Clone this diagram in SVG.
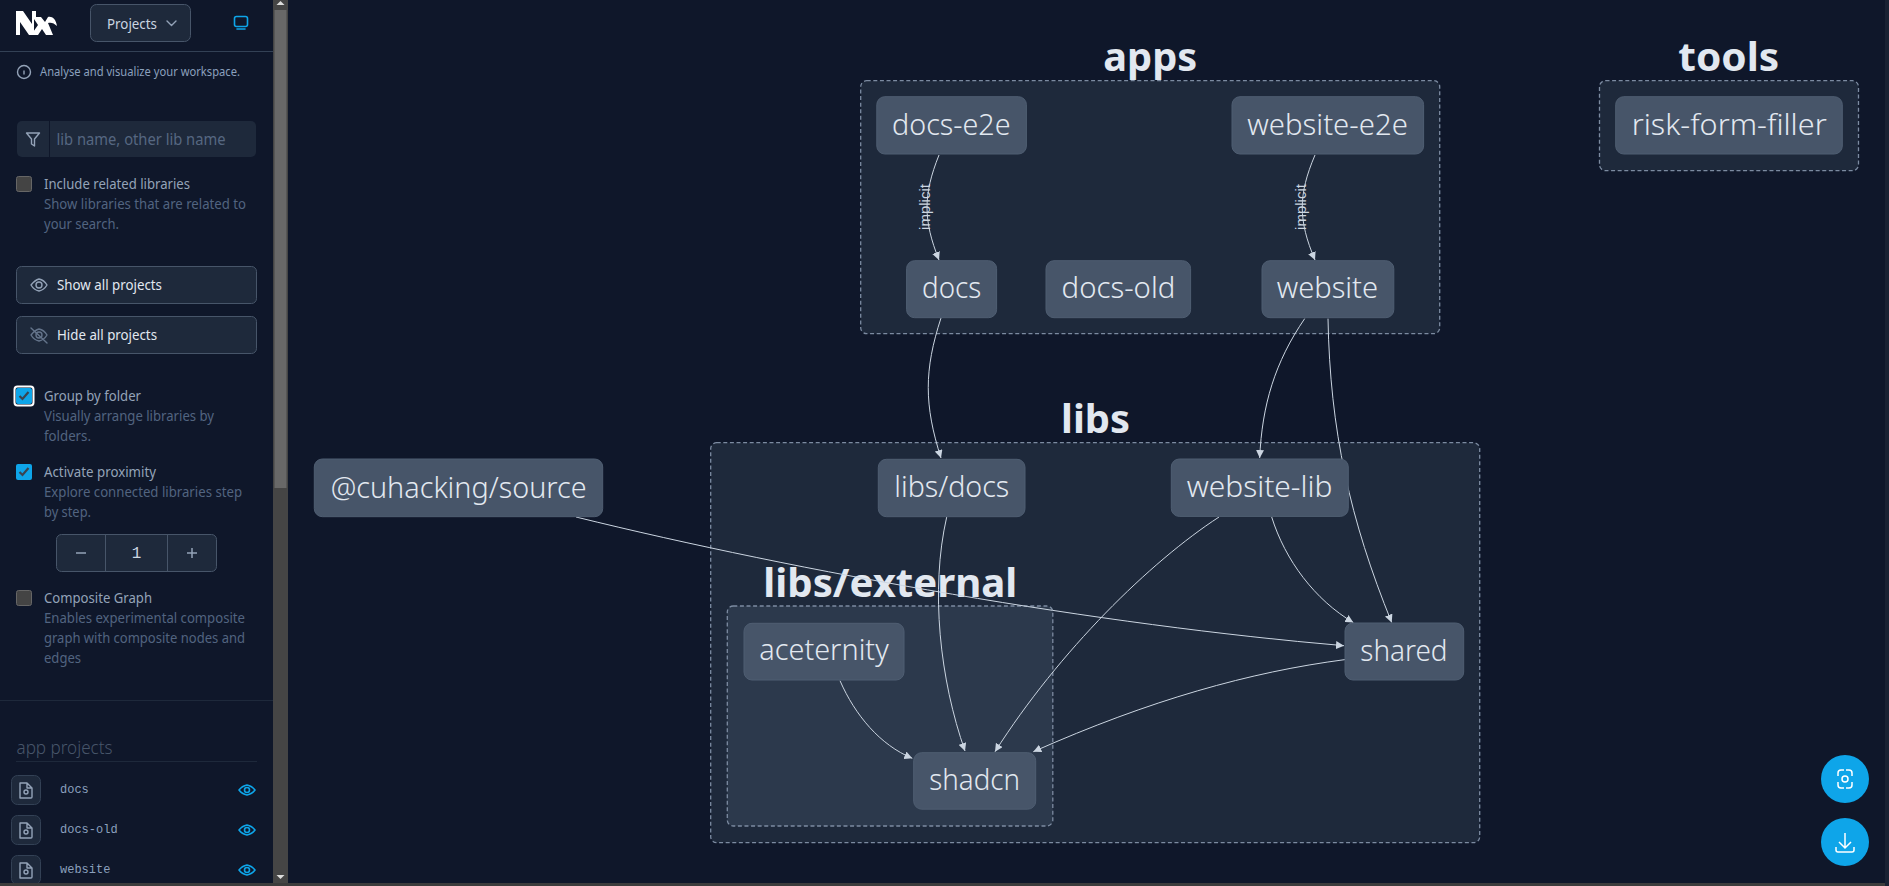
<svg xmlns="http://www.w3.org/2000/svg" width="1889" height="886" viewBox="0 0 1889 886">
<style>
text{font-family:"Noto Sans","Open Sans","DejaVu Sans",sans-serif}
.grp{fill:#1e293b;stroke:#7c8ba1;stroke-width:1.3;stroke-dasharray:4 2.6}
.grp2{fill:#2c394c;stroke:#7c8ba1;stroke-width:1.3;stroke-dasharray:4 2.6}
.glabel{font-size:39px;font-weight:700;fill:#e2e8f0}
.node rect{fill:#475569;stroke:#4f5e72;stroke-width:1}
.node text{font-size:30px;font-weight:300;fill:#e2e8f0}
.edge{fill:none;stroke:#cbd5e1;stroke-width:1;marker-end:url(#arrow)}
.edgelabel{font-family:"Liberation Sans",sans-serif;font-size:15px;fill:#cbd5e1}
.btn{fill:#1e293b;stroke:#475569;stroke-width:1}
.lbl{font-size:14px;fill:#94a3b8}
.sub{font-size:14px;fill:#526480}
.btxt{font-size:14px;fill:#e2e8f0;font-weight:400}
.icon{fill:none;stroke:#94a3b8;stroke-width:1.4;stroke-linecap:round;stroke-linejoin:round}
.dim{fill:none;stroke:#64748b;stroke-width:1.4;stroke-linecap:round;stroke-linejoin:round}
.blue{fill:none;stroke:#0ea5e9;stroke-width:1.6;stroke-linecap:round;stroke-linejoin:round}
.cb{fill:#444;stroke:#666;stroke-width:1}
.cbon{fill:#0ea5e9}
.check{fill:none;stroke:#3b4450;stroke-width:2.2}
.mono{font-family:"Liberation Mono",monospace;font-size:12px;fill:#8ba0bd}
</style>
<defs>
<marker id="arrow" markerUnits="userSpaceOnUse" markerWidth="9" markerHeight="8" refX="8" refY="4" orient="auto"><path d="M0 0L8 4L0 8Z" fill="#cbd5e1"/></marker>
</defs>
<rect width="1889" height="886" fill="#0f172a"/>
<g id="sidebar">
<rect width="273" height="886" fill="#0f172a"/>
<path d="M16 35V11h7l9 13V11h4v6l5 0 4 5 3-5c4-1 8 2 9 9-3-3-6-4-9-3l5 12h-7l-4-6-4 6h-7l7-10-4-6v16h-5l-9-13v13z" fill="#fff"/>
<rect class="btn" x="90.500" y="4.500" width="100" height="37" rx="6"/>
<text x="107" y="29" font-size="14" fill="#cbd5e1" textLength="50" lengthAdjust="spacingAndGlyphs">Projects</text>
<path d="M167 21l4.500 4.500 4.500-4.500" class="icon"/>
<g class="blue"><rect x="234.500" y="16.500" width="13" height="10" rx="2"/><path d="M237 29h8"/></g>
<path d="M0 51.500H273" stroke="#334155"/>
<circle class="icon" cx="24" cy="72" r="6.500"/><path d="M24 71v3" class="icon"/>
<text x="40" y="76" font-size="12" fill="#8ba0bd" textLength="200" lengthAdjust="spacingAndGlyphs">Analyse and visualize your workspace.</text>
<rect x="17" y="121" width="239" height="36" rx="5" fill="#1e293b"/>
<path d="M49.500 121V157" stroke="#0f172a"/>
<path class="icon" d="M26.500 133h13l-5 6v7l-3-2v-5z"/>
<text x="56.500" y="145" font-size="16" fill="#566781" textLength="169" lengthAdjust="spacingAndGlyphs">lib name, other lib name</text>
<rect class="cb" x="16.500" y="176.500" width="15" height="15" rx="2"/>
<text class="lbl" x="44" y="189" textLength="146" lengthAdjust="spacingAndGlyphs">Include related libraries</text>
<text class="sub" x="44" y="209" textLength="202" lengthAdjust="spacingAndGlyphs">Show libraries that are related to</text>
<text class="sub" x="44" y="229" textLength="75" lengthAdjust="spacingAndGlyphs">your search.</text>
<rect class="btn" x="16.500" y="266.500" width="240" height="37" rx="5"/>
<path class="icon" d="M31 285c4-5 8-6 8-6s5 1 8 6c-3 5-8 6-8 6s-5-1-8-6z"/><circle class="icon" cx="39" cy="285" r="3"/>
<text class="btxt" x="57" y="290" textLength="105" lengthAdjust="spacingAndGlyphs">Show all projects</text>
<rect class="btn" x="16.500" y="316.500" width="240" height="37" rx="5"/>
<path class="dim" d="M31 335c4-5 8-6 8-6s5 1 8 6c-3 5-8 6-8 6s-5-1-8-6z"/><circle class="dim" cx="39" cy="335" r="3"/><path class="dim" d="M31 328l16 15"/>
<text class="btxt" x="57" y="340" textLength="100" lengthAdjust="spacingAndGlyphs">Hide all projects</text>
<rect x="14.500" y="386.500" width="19" height="19" rx="3" fill="none" stroke="#fff" stroke-width="2"/>
<rect class="cbon" x="16" y="388" width="16" height="16" rx="2"/>
<path class="check" d="M19.500 396l3 3 6-7"/>
<text class="lbl" x="44" y="401" textLength="97" lengthAdjust="spacingAndGlyphs">Group by folder</text>
<text class="sub" x="44" y="421" textLength="170" lengthAdjust="spacingAndGlyphs">Visually arrange libraries by</text>
<text class="sub" x="44" y="441" textLength="47" lengthAdjust="spacingAndGlyphs">folders.</text>
<rect class="cbon" x="16" y="464" width="16" height="16" rx="2"/>
<path class="check" d="M19.500 472l3 3 6-7"/>
<text class="lbl" x="44" y="477" textLength="112" lengthAdjust="spacingAndGlyphs">Activate proximity</text>
<text class="sub" x="44" y="497" textLength="198" lengthAdjust="spacingAndGlyphs">Explore connected libraries step</text>
<text class="sub" x="44" y="517" textLength="47" lengthAdjust="spacingAndGlyphs">by step.</text>
<rect class="btn" x="56.500" y="534.500" width="160" height="37" rx="5"/>
<path d="M105.500 534.500V571.500M167.500 534.500V571.500" stroke="#475569"/>
<path d="M76 553h10M187 553h10M192 548v10" stroke="#94a3b8" stroke-width="1.500"/>
<text x="136.500" y="558" font-family="Liberation Mono" font-size="16" fill="#cbd5e1" text-anchor="middle" style="font-family:'Liberation Mono',monospace">1</text>
<rect class="cb" x="16.500" y="590.500" width="15" height="15" rx="2"/>
<text class="lbl" x="44" y="603" textLength="108" lengthAdjust="spacingAndGlyphs">Composite Graph</text>
<text class="sub" x="44" y="623" textLength="201" lengthAdjust="spacingAndGlyphs">Enables experimental composite</text>
<text class="sub" x="44" y="643" textLength="201" lengthAdjust="spacingAndGlyphs">graph with composite nodes and</text>
<text class="sub" x="44" y="663" textLength="37" lengthAdjust="spacingAndGlyphs">edges</text>
<path d="M0 700.500H273" stroke="#1e293b"/>
<text x="16.500" y="754" font-size="18" fill="#475569" textLength="96" lengthAdjust="spacingAndGlyphs" font-weight="300">app projects</text>
<path d="M16 761.500H257" stroke="#1e293b"/>
<g id="item-docs"><rect x="11.500" y="775.500" width="29" height="29" rx="6" fill="#1e293b" stroke="#334155"/><path class="icon" d="M20 783h7l5 5v9a1 1 0 0 1-1 1H20zM27 783v5h5"/><circle class="icon" cx="26" cy="792" r="2"/><text class="mono" x="60" y="793">docs</text><path class="blue" d="M239 790c3-4 8-5 8-5s5 1 8 5c-3 4-8 5-8 5s-5-1-8-5z"/><circle class="blue" cx="247" cy="790" r="2.500"/></g>
<g id="item-docs-old"><rect x="11.500" y="815.500" width="29" height="29" rx="6" fill="#1e293b" stroke="#334155"/><path class="icon" d="M20 823h7l5 5v9a1 1 0 0 1-1 1H20zM27 823v5h5"/><circle class="icon" cx="26" cy="832" r="2"/><text class="mono" x="60" y="833">docs-old</text><path class="blue" d="M239 830c3-4 8-5 8-5s5 1 8 5c-3 4-8 5-8 5s-5-1-8-5z"/><circle class="blue" cx="247" cy="830" r="2.500"/></g>
<g id="item-website"><rect x="11.500" y="855.500" width="29" height="29" rx="6" fill="#1e293b" stroke="#334155"/><path class="icon" d="M20 863h7l5 5v9a1 1 0 0 1-1 1H20zM27 863v5h5"/><circle class="icon" cx="26" cy="872" r="2"/><text class="mono" x="60" y="873">website</text><path class="blue" d="M239 870c3-4 8-5 8-5s5 1 8 5c-3 4-8 5-8 5s-5-1-8-5z"/><circle class="blue" cx="247" cy="870" r="2.500"/></g>
<rect x="273" width="15" height="886" fill="#454545"/>
<rect x="274.500" y="10" width="12" height="478" fill="#686868"/>
<path d="M280.500 1l4 4h-8zM280.500 879l4-4h-8z" fill="#ddd"/>
</g>
<g id="group-apps"><rect class="grp" x="860.700" y="80.700" width="579" height="253" rx="6"/><text class="glabel" x="1103.300" y="71" textLength="94" lengthAdjust="spacingAndGlyphs">apps</text></g>
<g id="group-tools"><rect class="grp" x="1599.500" y="80.700" width="259" height="90" rx="6"/><text class="glabel" x="1678.300" y="71" textLength="101" lengthAdjust="spacingAndGlyphs">tools</text></g>
<g id="group-libs"><rect class="grp" x="710.700" y="442.700" width="769" height="400" rx="6"/><text class="glabel" x="1061" y="432.500" textLength="69" lengthAdjust="spacingAndGlyphs">libs</text></g>
<g id="group-libs-external"><rect class="grp2" x="727.300" y="606" width="325.500" height="220" rx="6"/><text class="glabel" x="763.300" y="596.500" textLength="254" lengthAdjust="spacingAndGlyphs">libs/external</text></g>
<g id="connectors">
<path class="edge" d="M939 155C923 195 923 220 939 260"/>
<path class="edge" d="M1315 155C1298 195 1298 220 1315 260"/>
<path class="edge" d="M941 318C924 370 924 405 941 458"/>
<path class="edge" d="M1304.700 318.600C1275 362 1262 405 1259.700 458"/>
<path class="edge" d="M1328 318.600C1330 430 1350 520 1391.700 622.500"/>
<path class="edge" d="M1219 517C1150 562 1060 650 995 751.700"/>
<path class="edge" d="M1271.700 517C1285 560 1315 600 1353.300 622.500"/>
<path class="edge" d="M576 517C800 572 1100 625 1344 645.700"/>
<path class="edge" d="M1345 659.600C1250 672 1150 700 1033.300 751.700"/>
<path class="edge" d="M840 680.700C855 715 880 745 912.300 758.300"/>
<path class="edge" d="M946.700 517C930 590 940 680 965 751"/>
<text class="edgelabel" transform="translate(926.500 207) rotate(-90)" text-anchor="middle" dominant-baseline="middle">implicit</text>
<text class="edgelabel" transform="translate(1302.500 207) rotate(-90)" text-anchor="middle" dominant-baseline="middle">implicit</text>
</g>
<g id="node-docs-e2e" class="node"><rect x="876.800" y="96.700" width="149.600" height="57.300" rx="8"/><text x="892" y="135" textLength="118.600" lengthAdjust="spacingAndGlyphs">docs-e2e</text></g>
<g id="node-website-e2e" class="node"><rect x="1232" y="96.700" width="191.600" height="57.300" rx="8"/><text x="1247.200" y="135" textLength="160.700" lengthAdjust="spacingAndGlyphs">website-e2e</text></g>
<g id="node-docs" class="node"><rect x="906.600" y="260.700" width="90" height="57" rx="8"/><text x="922" y="298" textLength="59.300" lengthAdjust="spacingAndGlyphs">docs</text></g>
<g id="node-docs-old" class="node"><rect x="1046" y="260.700" width="144.600" height="57" rx="8"/><text x="1061.600" y="298" textLength="113.700" lengthAdjust="spacingAndGlyphs">docs-old</text></g>
<g id="node-website" class="node"><rect x="1262" y="260.700" width="131.800" height="57" rx="8"/><text x="1276.700" y="298" textLength="101.400" lengthAdjust="spacingAndGlyphs">website</text></g>
<g id="node-risk-form-filler" class="node"><rect x="1615.700" y="96.700" width="226.600" height="57.300" rx="8"/><text x="1631.700" y="135" textLength="195" lengthAdjust="spacingAndGlyphs">risk-form-filler</text></g>
<g id="node-source" class="node"><rect x="314.300" y="459" width="288.400" height="57.700" rx="8"/><text x="330.700" y="497.500" textLength="256" lengthAdjust="spacingAndGlyphs">@cuhacking/source</text></g>
<g id="node-libs-docs" class="node"><rect x="878.300" y="459.300" width="146.700" height="57.400" rx="8"/><text x="894.300" y="497" textLength="115" lengthAdjust="spacingAndGlyphs">libs/docs</text></g>
<g id="node-website-lib" class="node"><rect x="1171.300" y="459" width="177" height="57.400" rx="8"/><text x="1186.700" y="497" textLength="145.700" lengthAdjust="spacingAndGlyphs">website-lib</text></g>
<g id="node-aceternity" class="node"><rect x="744" y="623.300" width="160" height="56.700" rx="8"/><text x="759.300" y="660.300" textLength="129.400" lengthAdjust="spacingAndGlyphs">aceternity</text></g>
<g id="node-shadcn" class="node"><rect x="913.700" y="752.700" width="122" height="56.500" rx="8"/><text x="929.300" y="790" textLength="90.700" lengthAdjust="spacingAndGlyphs">shadcn</text></g>
<g id="node-shared" class="node"><rect x="1345" y="623" width="118.700" height="57" rx="8"/><text x="1360.300" y="661" textLength="87.300" lengthAdjust="spacingAndGlyphs">shared</text></g>
<g id="controls">
<circle cx="1845" cy="779" r="24" fill="#0ea5e9"/>
<path d="M1838 776v-3a3 3 0 0 1 3-3h3M1846 770h3a3 3 0 0 1 3 3v3M1852 782v3a3 3 0 0 1-3 3h-3M1844 788h-3a3 3 0 0 1-3-3v-3" fill="none" stroke="#fff" stroke-width="1.500"/><circle cx="1845" cy="779" r="3" fill="none" stroke="#fff" stroke-width="1.500"/>
<circle cx="1845" cy="842" r="24" fill="#0ea5e9"/>
<path d="M1845 833v15M1839 842l6 6 6-6M1836 847v3a2 2 0 0 0 2 2h14a2 2 0 0 0 2-2v-3" fill="none" stroke="#fff" stroke-width="1.500"/>
</g>
<rect y="883" width="1889" height="3" fill="#3c3c3c"/>
<rect x="1885" width="4" height="886" fill="#1a2233"/>
</svg>
